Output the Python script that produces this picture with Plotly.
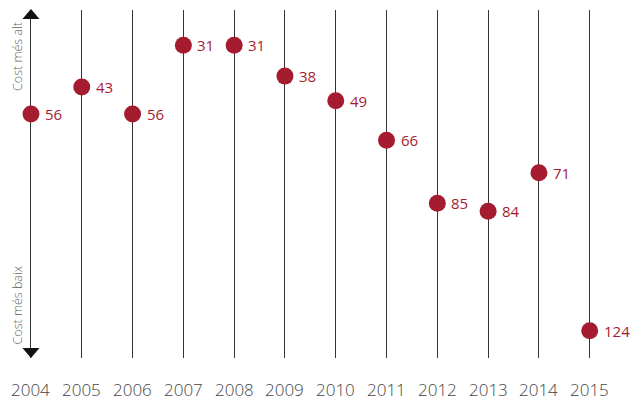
import plotly.graph_objects as go

years = [2004, 2005, 2006, 2007, 2008, 2009, 2010, 2011, 2012, 2013, 2014, 2015]
# relative cost position (100 = top "Cost més alt", 0 = bottom "Cost més baix")
cost_position = [70.1, 77.9, 70.1, 89.9, 89.9, 81.0, 73.9, 62.6, 44.5, 42.2, 53.2, 7.8]
rank_labels = ["56", "43", "56", "31", "31", "38", "49", "66", "85", "84", "71", "124"]
year_labels = [str(y) for y in years]
axis_top_label = "Cost més alt"
axis_bottom_label = "Cost més baix"

RED = "#a51c30"
LINE = "#333333"
GREY = "#444444"
FONT = "Open Sans"

fig = go.Figure()

fig.add_trace(go.Scatter(
    x=years, y=cost_position, mode="markers",
    marker=dict(size=17, color=RED, line=dict(width=0)),
    cliponaxis=False, hoverinfo="skip", showlegend=False,
))

# rank labels to the right of each dot
for x, y, lab in zip(years, cost_position, rank_labels):
    fig.add_annotation(x=x, y=y, xref="x", yref="y", text=lab, showarrow=False,
                       xanchor="left", yanchor="middle", xshift=12, yshift=0,
                       font=dict(family=FONT, size=15, color=RED))

# year labels under each line
for y, lab in zip(years, year_labels):
    fig.add_annotation(x=y, y=0, xref="x", yref="paper", yanchor="top",
                       text=lab, showarrow=False, yshift=-18,
                       font=dict(family=FONT, size=17, color=GREY, weight=300))

# arrow heads on first line
fig.add_shape(type="path", xref="x", yref="paper", xsizemode="pixel", ysizemode="pixel",
              xanchor=years[0], yanchor=1, path="M -8.5,-9 L 8.5,-9 L 0,1 Z",
              fillcolor="#111111", line=dict(width=0))
fig.add_shape(type="path", xref="x", yref="paper", xsizemode="pixel", ysizemode="pixel",
              xanchor=years[0], yanchor=0, path="M -8.5,10 L 8.5,10 L 0,0 Z",
              fillcolor="#111111", line=dict(width=0))

fig.add_annotation(x=0.027, y=0.866, xref="paper", yref="paper", text=axis_top_label,
                   textangle=-90, showarrow=False, xanchor="center", yanchor="middle",
                   font=dict(family=FONT, size=12.5, color="#666666", weight=300))
fig.add_annotation(x=0.027, y=0.152, xref="paper", yref="paper", text=axis_bottom_label,
                   textangle=-90, showarrow=False, xanchor="center", yanchor="middle",
                   font=dict(family=FONT, size=12.5, color="#666666", weight=300))

fig.update_layout(
    width=640, height=403,
    margin=dict(l=0, r=0, t=10, b=45),
    paper_bgcolor="white", plot_bgcolor="white",
    xaxis=dict(range=[2003.39, 2015.99], tickvals=years, showticklabels=False,
               showgrid=True, gridcolor=LINE, gridwidth=1.3, zeroline=False,
               showline=False, fixedrange=True),
    yaxis=dict(range=[0, 100], showgrid=False, zeroline=False, showticklabels=False,
               showline=False, fixedrange=True),
)

fig.write_html("out.html", config={"displayModeBar": False},
               post_script="document.body.style.margin='0';document.body.style.overflow='hidden';")
